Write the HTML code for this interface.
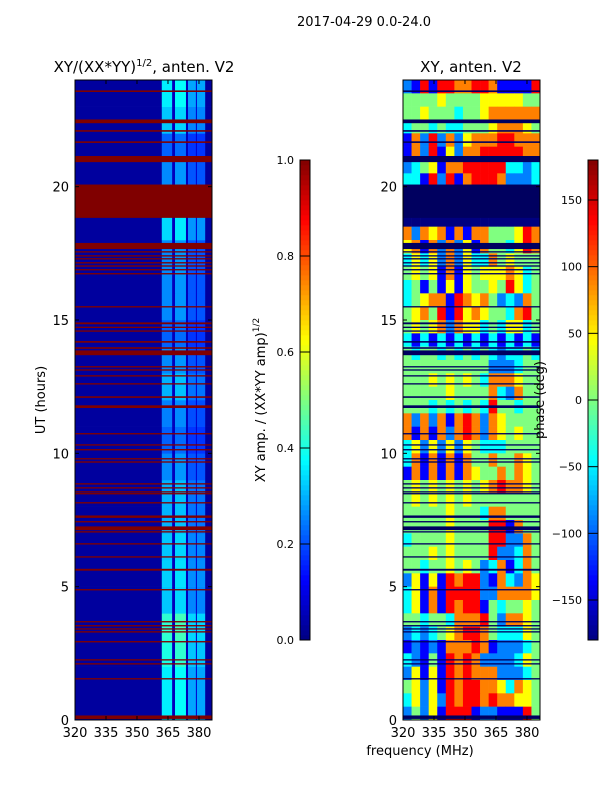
<!DOCTYPE html>
<html><head><meta charset="utf-8">
<style>
html,body{margin:0;padding:0;background:#fff;}
svg{display:block;font-family:"DejaVu Sans","Liberation Sans",sans-serif;}
text{fill:#000;}
</style></head>
<body>
<svg id="fig" width="600" height="800" viewBox="0 0 600 800" xmlns="http://www.w3.org/2000/svg">
  <text x="364" y="26" font-size="13" text-anchor="middle">2017-04-29 0.0-24.0</text>
  <text x="144" y="72" font-size="15" text-anchor="middle">XY/(XX*YY)<tspan font-size="10" dy="-6">1/2</tspan><tspan dy="6">, anten. V2</tspan></text>
  <text x="471" y="72" font-size="15" text-anchor="middle">XY, anten. V2</text>
  <g id="left"></g>
  <g id="right"></g>
  <g id="axes"></g>
  <text transform="translate(45,400) rotate(-90)" font-size="13" text-anchor="middle">UT (hours)</text>
  <text x="420" y="755" font-size="13" text-anchor="middle">frequency (MHz)</text>
  <text transform="translate(265,400) rotate(-90)" font-size="13" text-anchor="middle">XY amp. / (XX*YY amp)<tspan font-size="9" dy="-6">1/2</tspan></text>
  <text transform="translate(544,400) rotate(-90)" font-size="13" text-anchor="middle">phase (deg)</text>
</svg>
<script>
// ---- data ----
const hourTicks = [0, 5, 10, 15, 20];
const freqTicks = [320, 335, 350, 365, 380];
const ampTicks = [0.0, 0.2, 0.4, 0.6, 0.8, 1.0];
const phaseTicks = [-150, -100, -50, 0, 50, 100, 150];
// left panel frequency bin edges (MHz) and amplitude levels
const ampFreqEdges = [320, 362, 367, 368.4, 373.7, 374.7, 378.5, 379, 383, 386.3];
const ampColLevel = [0.03, 1.0, 0.06, 1.05, 0.06, 0.8, 0.08, 0.8, 0.03];
const ampColBright = [0, 1, 0, 1, 0, 1, 0, 1, 0];
// per-hour brightness of active band (hour 0..23)
const ampHourMod = [0.36,0.36,0.4,0.42,0.32,0.33,0.32,0.3,0.3,0.26,0.22,0.25,0.3,0.26,0.22,0.26,0.26,0.26,0.34,0.3,0.26,0.22,0.32,0.36];
// flagged (saturated) time intervals: start, end (hours)
const flagStart = [23.55,22.38,22.06,21.64,20.92,18.83,17.66,17.53,17.38,17.27,17.12,17.0,16.86,16.71,15.47,14.84,14.7,14.56,14.15,13.92,13.68,13.22,13.1,12.88,12.58,12.08,11.7,10.71,10.29,10.11,9.77,9.65,8.83,8.68,8.53,8.46,8.12,7.58,7.41,7.12,7.03,6.58,6.09,5.6,4.86,3.66,3.51,3.39,3.28,2.91,2.23,2.08,1.52,0.04];
const flagEnd   = [23.61,22.52,22.12,21.7,21.15,20.08,17.89,17.58,17.43,17.32,17.17,17.05,16.91,16.76,15.52,14.91,14.75,14.61,14.21,13.98,13.86,13.27,13.15,12.93,12.63,12.14,11.8,10.76,10.34,10.16,9.82,9.7,8.88,8.73,8.58,8.51,8.17,7.67,7.46,7.26,7.08,6.63,6.14,5.67,4.91,3.71,3.56,3.44,3.33,2.96,2.28,2.13,1.57,0.17];
// phase grid: 48 half-hour rows (top row = 23.5-24h), 16 freq columns; digits 0..8 -> -180..180 deg
const phaseRows = [
"2171776677611117","4444544445555544","4454443445666666","3443433444566654",
"1627262566677666","1627152667777766","2345166777773323","3317271677762223",
"0000000000000000","0000000000000000","0000000000000000","6265616166444576",
"5616262516443576","3535262533645444","4545161545556534","3414151544547534",
"3456617656423264","4564717565443674","4545626553435534","3131313131313131",
"4344343434323343","4444444444222344","4445454543666544","4444454444632644",
"4443434343744344","6262616762654444","6161626762654544","3525252543334444",
"3616161644644654","1616161654464654","4545454545676654","4545454544444444",
"4444454443664444","4444454444771644","3444454444772264","4445454444722364",
"4434454542361364","2515176772163265","3516177772266665","3516176771434454",
"4434436667426654","2323456776433354","1212166676122234","3214176762222354",
"2515176766622234","4525176776653654","3525276776766554","2425177712211174"];
const phaseRowTop = [24,23.5,23,22.5,22,21.5,21,20.5,20,19.5,19,18.5,18,17.5,17,16.5,16,15.5,15,14.5,14,13.5,13,12.5,12,11.5,11,10.5,10,9.5,9,8.5,8,7.5,7,6.5,6,5.5,5,4.5,4,3.5,3,2.5,2,1.5,1,0.5];
// ---- scales ----
const NS = "http://www.w3.org/2000/svg";
const yTop = 80, yBot = 720;
function yOf(h){ return yBot - (h/24)*(yBot-yTop); }
const LX0 = 75, RX0 = 403, PW = 137, FMIN = 320, FMAX = 386.3;
function xOf(f, x0){ return x0 + (f-FMIN)/(FMAX-FMIN)*PW; }
function jet(v){
  v = Math.max(0, Math.min(1, v));
  const r = Math.max(0, Math.min(1, 1.5 - Math.abs(4*v - 3)));
  const g = Math.max(0, Math.min(1, 1.5 - Math.abs(4*v - 2)));
  const b = Math.max(0, Math.min(1, 1.5 - Math.abs(4*v - 1)));
  return `rgb(${Math.round(r*255)},${Math.round(g*255)},${Math.round(b*255)})`;
}
function rect(parent, x, y, w, h, fill){
  const r = document.createElementNS(NS, "rect");
  r.setAttribute("x", x); r.setAttribute("y", y);
  r.setAttribute("width", w); r.setAttribute("height", h);
  r.setAttribute("fill", fill);
  parent.appendChild(r);
  return r;
}
function txt(parent, x, y, s, anchor){
  const t = document.createElementNS(NS, "text");
  t.setAttribute("x", x); t.setAttribute("y", y);
  t.setAttribute("font-size", "13");
  t.setAttribute("text-anchor", anchor);
  t.textContent = s;
  parent.appendChild(t);
  return t;
}
// ---- left heatmap ----
const L = document.getElementById("left");
for (let h = 0; h < 24; h++) {
  for (let c = 0; c < ampColLevel.length; c++) {
    const x1 = xOf(ampFreqEdges[c], LX0), x2 = xOf(ampFreqEdges[c+1], LX0);
    const v = ampColBright[c] ? ampColLevel[c]*ampHourMod[h] : ampColLevel[c];
    const r = rect(L, x1, yOf(h+1), x2-x1+0.3, yOf(h)-yOf(h+1)+0.3, jet(v));
    
    
  }
}
for (let i = 0; i < flagStart.length; i++) {
  const y1 = yOf(flagEnd[i]), y2 = yOf(flagStart[i]);
  const r = rect(L, LX0, y1, PW, Math.max(1, y2-y1), jet(1));
  
  
}
// ---- right heatmap ----
const R = document.getElementById("right");
const ncol = 16;
for (let i = 0; i < phaseRows.length; i++) {
  const top = phaseRowTop[i], bot = top - 0.5;
  for (let c = 0; c < ncol; c++) {
    const deg = -180 + parseInt(phaseRows[i][c]) * 45;
    const f1 = FMIN + c*(FMAX-FMIN)/ncol, f2 = FMIN + (c+1)*(FMAX-FMIN)/ncol;
    const x1 = xOf(f1, RX0), x2 = xOf(f2, RX0);
    const r = rect(R, x1, yOf(top), x2-x1+0.3, yOf(bot)-yOf(top)+0.3, jet((deg+180)/360));
    
    
  }
}
for (let i = 0; i < flagStart.length; i++) {
  const y1 = yOf(flagEnd[i]), y2 = yOf(flagStart[i]);
  const r = rect(R, RX0, y1, PW, Math.max(1, y2-y1), "#000060");
  
  
}
// ---- axes ----
const A = document.getElementById("axes");
[LX0, RX0].forEach((x0, pi) => {
  const fr = rect(A, x0, yTop, PW, yBot-yTop, "none");
  fr.setAttribute("stroke", "#000"); fr.setAttribute("stroke-width", "1");
  
  
  hourTicks.forEach(h => {
    const y = yOf(h);
    rect(A, x0, y-0.5, 4, 1, "#000");
    rect(A, x0+PW-4, y-0.5, 4, 1, "#000");
    const t = txt(A, x0-6, y+5, String(h), "end");
    
    
  });
  freqTicks.forEach(f => {
    const x = xOf(f, x0);
    rect(A, x-0.5, yBot-4, 1, 4, "#000");
    rect(A, x-0.5, yTop, 1, 4, "#000");
    const t = txt(A, x, yBot+17, String(f), "middle");
    
    
  });
});
// ---- colorbars ----
function colorbar(x, ticks, vmin, vmax, name){
  const g = document.createElementNS(NS, "g");
  
  
  A.appendChild(g);
  const n = 96;
  for (let i = 0; i < n; i++) {
    rect(g, x, 640 - (i+1)*480/n, 10, 480/n+0.3, jet((i+0.5)/n));
  }
  const fr = rect(g, x, 160, 10, 480, "none");
  fr.setAttribute("stroke", "#000");
  ticks.forEach(v => {
    const y = 640 - (v-vmin)/(vmax-vmin)*480;
    rect(g, x, y-0.5, 10, 1, "#000");
    const lab = (vmax <= 1) ? v.toFixed(1) : (v < 0 ? "\u2212" + Math.abs(v) : String(v));
    const t = txt(g, x-6, y+4, lab, "end");
    t.setAttribute("font-size", "11");
    
    
  });
}
colorbar(300, ampTicks, 0, 1, "amplitude-colorbar");
colorbar(588, phaseTicks, -180, 180, "phase-colorbar");
</script>
</body></html>
